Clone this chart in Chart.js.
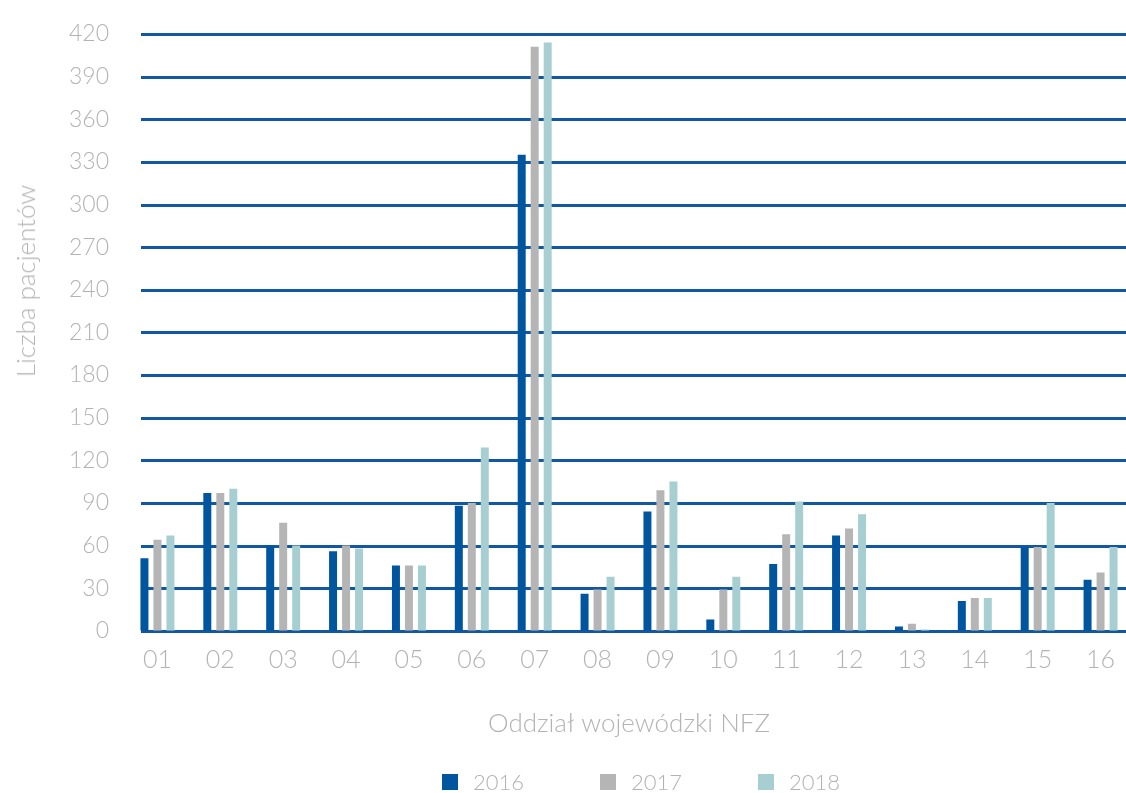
<!DOCTYPE html>
<html>
<head>
<meta charset="utf-8">
<script src="https://cdn.jsdelivr.net/npm/chart.js@4"></script>
<style>
  html, body { margin: 0; padding: 0; background: #fff; overflow: hidden; }
  #wrap { position: relative; width: 1126px; height: 793px; overflow: hidden; }
  #chart { position: absolute; left: 0; top: 0; }
  #ytitle {
    position: absolute; left: 25px; top: 281px;
    transform: translate(-50%, -50%) rotate(-90deg);
    font: 300 26px Lato, sans-serif; color: #b3b3b3; white-space: nowrap;
  }
  #legend {
    position: absolute; left: 442px; top: 768px; display: flex; gap: 76px;
    font: 300 22px Lato, sans-serif; color: #b3b3b3;
  }
  #legend span.item { display: flex; align-items: center; }
  #legend i { display: inline-block; width: 16px; height: 16px; margin-right: 15px; }
</style>
</head>
<body>
<div id="wrap">
  <canvas id="chart" width="1132" height="793"></canvas>
  <div id="ytitle">Liczba pacjentów</div>
  <div id="legend"></div>
</div>
<script>
const oddzialy = ['01','02','03','04','05','06','07','08','09','10','11','12','13','14','15','16'];
const lata = ['2016', '2017', '2018'];
const kolory = ['#00559f', '#b5b5b5', '#a7cfd1'];
const dane2016 = [51, 97, 60, 56, 46, 88, 335, 26, 84, 8, 47, 67, 3, 21, 59, 36];
const dane2017 = [64, 97, 76, 60, 46, 90, 411, 29, 99, 29, 68, 72, 5, 23, 59, 41];
const dane2018 = [67, 100, 60, 58, 46, 129, 414, 38, 105, 38, 91, 82, 1, 23, 90, 59];

const szary = '#b3b3b3';

// poziome linie siatki rysowane pod slupkami, od x=141
const liniePlugin = {
  id: 'linie',
  beforeDatasetsDraw(chart) {
    const ctx = chart.ctx;
    const y = chart.scales.y;
    ctx.save();
    ctx.strokeStyle = '#1158a0';
    ctx.lineWidth = 3;
    y.ticks.forEach(t => {
      const py = Math.round(y.getPixelForValue(t.value)) + 0.5;
      ctx.beginPath();
      ctx.moveTo(141, py);
      ctx.lineTo(chart.chartArea.right, py);
      ctx.stroke();
    });
    ctx.restore();
  }
};

const ctx = document.getElementById('chart').getContext('2d');
const wykres = new Chart(ctx, {
  type: 'bar',
  data: {
    labels: oddzialy,
    datasets: [
      { label: lata[0], data: dane2016, backgroundColor: kolory[0] },
      { label: lata[1], data: dane2017, backgroundColor: kolory[1] },
      { label: lata[2], data: dane2018, backgroundColor: kolory[2] }
    ]
  },
  options: {
    responsive: false,
    animation: false,
    categoryPercentage: 0.62,
    barPercentage: 0.615,
    layout: { padding: { top: 34, right: 0, bottom: 54, left: 0 } },
    plugins: { legend: { display: false }, tooltip: { enabled: false } },
    scales: {
      x: {
        grid: { display: false },
        border: { display: false },
        ticks: { color: szary, padding: 6, font: { family: 'Lato', weight: '300', size: 25 } },
        title: {
          display: true, text: 'Oddział wojewódzki NFZ', color: szary,
          padding: { top: 27, bottom: 0 },
          font: { family: 'Lato', weight: '300', size: 26 }
        }
      },
      y: {
        min: 0, max: 420,
        afterFit(scale) { scale.width = 126; },
        grid: { display: false },
        border: { display: false },
        ticks: { stepSize: 30, color: szary, padding: 9, font: { family: 'Lato', weight: '300', size: 23 } }
      }
    }
  },
  plugins: [liniePlugin]
});

const legenda = document.getElementById('legend');
lata.forEach((rok, i) => {
  const el = document.createElement('span');
  el.className = 'item';
  el.innerHTML = '<i style="background:' + kolory[i] + '"></i>' + rok;
  legenda.appendChild(el);
});
</script>
</body>
</html>
